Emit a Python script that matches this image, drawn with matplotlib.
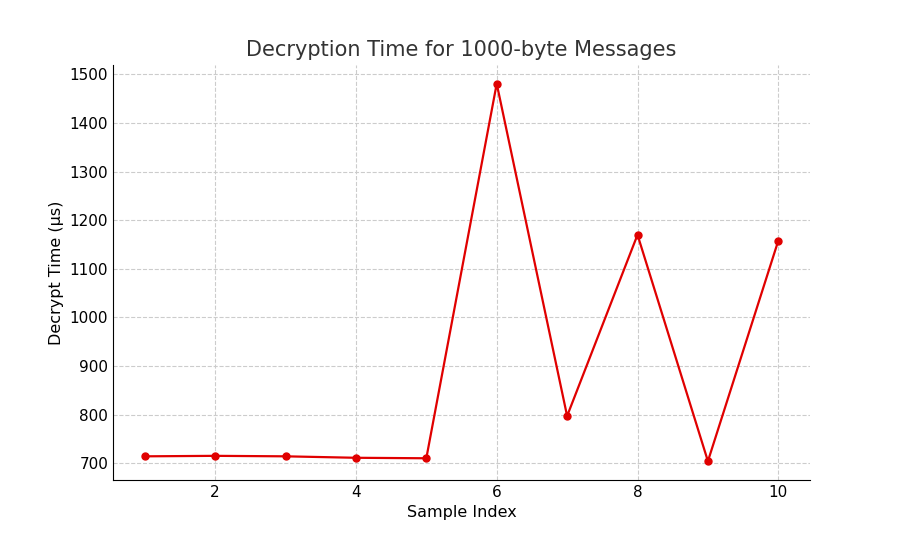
import matplotlib.pyplot as plt

sample_idx = [1, 2, 3, 4, 5, 6, 7, 8, 9, 10]
decrypt_us = [714, 715, 714, 711, 710, 1481, 797, 1170, 704, 1158]

fig = plt.figure(figsize=(9, 5.4), dpi=100)
ax = fig.add_axes([0.1256, 0.111, 0.7744, 0.769])
ax.plot(sample_idx, decrypt_us, color='#e00000', marker='o', markersize=5, linewidth=1.6)

ax.set_title('Decryption Time for 1000-byte Messages', fontsize=15, color='#333333')
ax.set_xlabel('Sample Index', fontsize=11.5)
ax.set_ylabel('Decrypt Time (µs)', fontsize=11.5)
ax.grid(True, linestyle='--', color='#cccccc', linewidth=0.8)
ax.spines['top'].set_visible(False)
ax.spines['right'].set_visible(False)
ax.tick_params(labelsize=11, length=0)
ax.set_xticks([2, 4, 6, 8, 10])

fig.savefig('out.png', dpi=100)
